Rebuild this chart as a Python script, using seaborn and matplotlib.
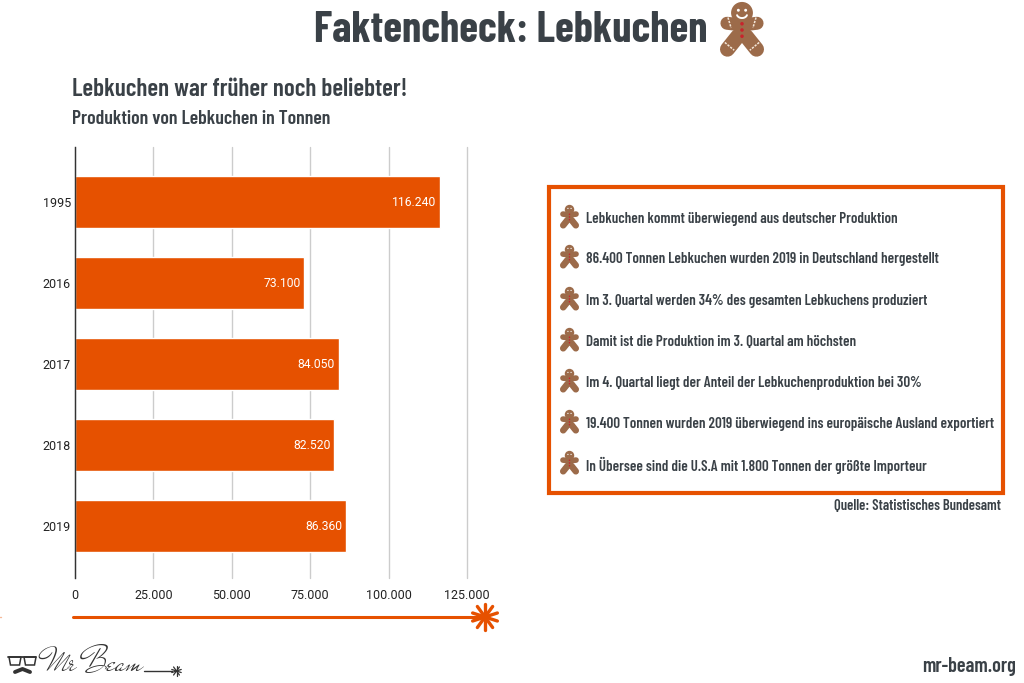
import numpy as np
import pandas as pd
import matplotlib.pyplot as plt
from matplotlib.patches import Circle, Rectangle, Polygon
import seaborn as sns
import logging

logging.getLogger("matplotlib.font_manager").setLevel(logging.ERROR)

# data
years = ["1995", "2016", "2017", "2018", "2019"]
tonnes = [116240, 73100, 84050, 82520, 86360]
x_ticks = [0, 25000, 50000, 75000, 100000, 125000]
facts = [
    "Lebkuchen kommt überwiegend aus deutscher Produktion",
    "86.400 Tonnen Lebkuchen wurden 2019 in Deutschland hergestellt",
    "Im 3. Quartal werden 34% des gesamten Lebkuchens produziert",
    "Damit ist die Produktion im 3. Quartal am höchsten",
    "Im 4. Quartal liegt der Anteil der Lebkuchenproduktion bei 30%",
    "19.400 Tonnen wurden 2019 überwiegend ins europäische Ausland exportiert",
    "In Übersee sind die U.S.A mit 1.800 Tonnen der größte Importeur",
]
fact_y = [219, 259, 301, 342, 383, 424, 465]

ORANGE = "#E65100"
DARK = "#3A4147"
BROWN = "#9C6B4A"
NARROW = ["Barlow Condensed", "Roboto", "DejaVu Sans"]

sns.set_theme(style="white")
plt.rcParams["font.family"] = ["Roboto", "DejaVu Sans"]


def dots(v):
    return f"{int(v):,}".replace(",", ".")


fig = plt.figure(figsize=(10.24, 6.83), dpi=100, facecolor="white")
W, H = 1024, 683

# chart, placed in pixel coords of the reference
ax = fig.add_axes([75 / W, 1 - 578 / H, (467 - 75) / W, (578 - 147) / H])
df = pd.DataFrame({"year": years, "tonnes": tonnes})
sns.barplot(data=df, x="tonnes", y="year", color=ORANGE, saturation=1, width=0.64, ax=ax)
ax.set_xlim(0, 125000)
ax.set_ylim(4.64, -0.68)
ax.set_xticks(x_ticks)
ax.set_xticklabels([dots(v) for v in x_ticks], fontsize=9, color="#222222")
ax.tick_params(axis="y", labelsize=9, labelcolor="#222222", length=0, pad=3)
ax.tick_params(axis="x", length=0, pad=8)
ax.set_xlabel("")
ax.set_ylabel("")
ax.grid(axis="x", color="#CCCCCC", lw=1)
ax.set_axisbelow(True)
for g in ax.get_xgridlines():
    g.set_clip_on(False)
for s in ["top", "right", "bottom"]:
    ax.spines[s].set_visible(False)
ax.spines["left"].set_color("#333333")
ax.spines["left"].set_linewidth(1)
for t in ax.bar_label(ax.containers[0], labels=[dots(v) for v in tonnes], padding=-2.5,
                      color="white", fontsize=8.7):
    t.set_ha("right")

# overlay for everything else, y runs downward like the picture
ov = fig.add_axes([0, 0, 1, 1], facecolor="none")
ov.set_xlim(0, W)
ov.set_ylim(H, 0)
ov.axis("off")


def ginger(cx, cy, s, detail=True):
    # s = full icon height in px
    u = s / 102
    lw = 25 * u * 0.72
    for x1, y1, x2, y2 in [(-12, -11, -29, -13), (12, -11, 29, -13), (-8, 12, -28, 37), (8, 12, 28, 37)]:
        ov.plot([cx + x1 * u, cx + x2 * u], [cy + y1 * u, cy + y2 * u], color=BROWN,
                lw=lw * (1.15 if y2 > 0 else 1), solid_capstyle="round", zorder=5)
    ov.add_patch(Polygon([(cx - 16 * u, cy - 20 * u), (cx + 16 * u, cy - 20 * u), (cx + 14 * u, cy + 5 * u),
                          (cx + 22 * u, cy + 24 * u), (cx - 22 * u, cy + 24 * u), (cx - 14 * u, cy + 5 * u)],
                         color=BROWN, zorder=5, lw=0))
    ov.add_patch(Circle((cx, cy - 33 * u), 21 * u, color=BROWN, zorder=5, lw=0))
    for dy in (-12, 0, 12):
        ov.add_patch(Circle((cx, cy + dy * u), 3.4 * u, color="#C8232C", zorder=6, lw=0))
    ov.add_patch(Circle((cx - 7 * u, cy - 38 * u), 2.8 * u, color="white", zorder=6, lw=0))
    ov.add_patch(Circle((cx + 7 * u, cy - 38 * u), 2.8 * u, color="white", zorder=6, lw=0))
    if detail:
        t = np.linspace(0.1, 0.9, 20) * np.pi
        ov.plot(cx + 10 * u * np.cos(t), cy - 31 * u + 8 * u * np.sin(t), color="white", lw=1.4, zorder=6)
        for x1, y1, x2, y2 in [(-27, -24, -21, -4), (27, -24, 21, -4), (-33, 24, -15, 39), (33, 24, 15, 39)]:
            ov.plot([cx + x1 * u, cx + x2 * u], [cy + y1 * u, cy + y2 * u], color="#F3E6D8", lw=1.1,
                    ls=(0, (1.5, 0.8)), zorder=6)


def star(cx, cy, r, n, lw, color):
    for a in (np.arange(n) + 0.5) * np.pi / n:
        ov.plot([cx - r * np.cos(a), cx + r * np.cos(a)], [cy - r * np.sin(a), cy + r * np.sin(a)],
                color=color, lw=lw, solid_capstyle="round", zorder=4)


# title
ov.text(708, 30, "Faktencheck: Lebkuchen", ha="right", va="center", fontsize=31, fontweight="bold",
        family=NARROW, color=DARK)
ginger(742, 30, 53)

ov.text(72, 90, "Lebkuchen war früher noch beliebter!", va="center", fontsize=18, fontweight="semibold",
        family=NARROW, color=DARK)
ov.text(72, 119, "Produktion von Lebkuchen in Tonnen", va="center", fontsize=14.2, fontweight="semibold",
        family=NARROW, color=DARK)

# fact box
ov.add_patch(Rectangle((549, 187), 454, 306, fill=False, edgecolor=ORANGE, lw=3, zorder=3))
for txt, y in zip(facts, fact_y):
    ginger(569.5, y - 2, 23, detail=False)
    ov.text(586, y, txt, va="center", fontsize=10.8, fontweight="semibold", family=NARROW, color=DARK)
ov.text(1001, 506, "Quelle: Statistisches Bundesamt", ha="right", va="center", fontsize=10.6,
        fontweight="semibold", family=NARROW, color=DARK)

# laser line under the chart
ov.plot([73, 480], [617, 617], color=ORANGE, lw=2.2, solid_capstyle="round", zorder=3)
star(485, 617, 13, 5, 2.4, ORANGE)
ov.plot([0, 1], [617, 617], color=ORANGE, lw=1, alpha=0.4)

# logo
for gx0, gx1 in [(9, 21), (24, 36)]:
    ov.add_patch(Polygon([(gx0, 657), (gx1, 657), (gx1 - 1.5, 665), (gx0 + 1.5, 665)], fill=False,
                         edgecolor="#333333", lw=1.1))
ov.plot([8, 36], [656.5, 656.5], color="#333333", lw=1.3)
ov.plot([15, 22.5, 30], [672, 669, 672], color="#333333", lw=2.8, solid_capstyle="round")
ov.text(46, 667, "Mr Beam", va="center", fontsize=25, family=["Mr De Haviland", "DejaVu Serif"], color="#333333")
ov.plot([144, 172], [671, 671], color="#333333", lw=1)
star(176.5, 671, 5, 5, 0.9, "#333333")

ov.text(1016, 667, "mr-beam.org", ha="right", va="center", fontsize=14.6, fontweight="semibold",
        family=NARROW, color=DARK)

fig.savefig("out.png", dpi=100, facecolor="white")
